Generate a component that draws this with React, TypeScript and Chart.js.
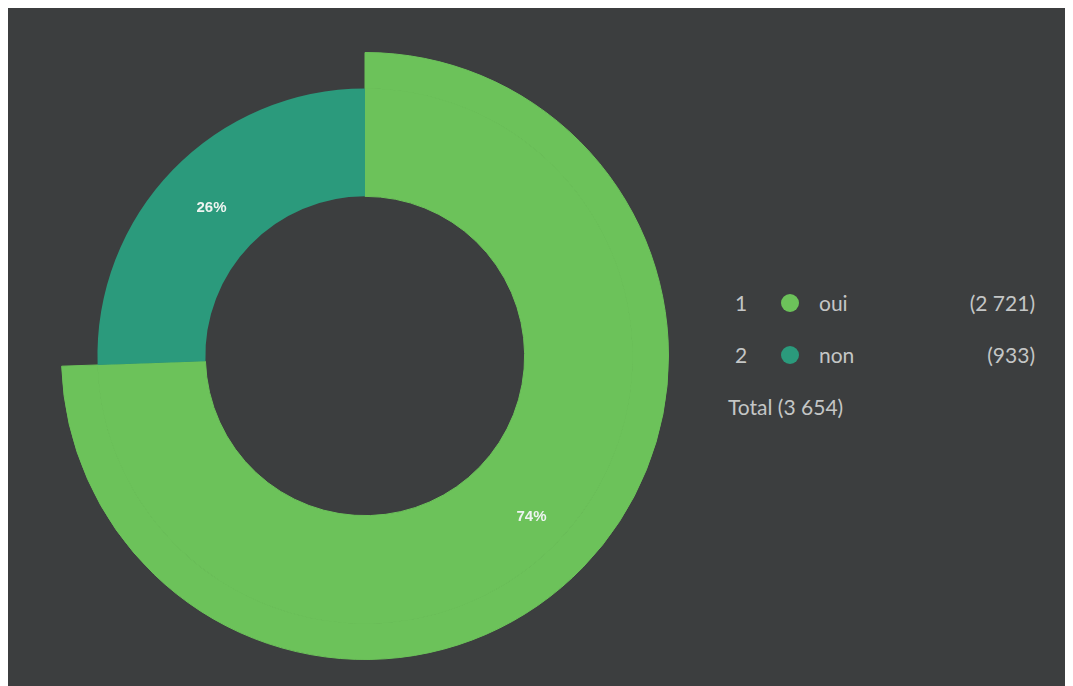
import React, { useEffect, useRef } from "react";
import { Chart, registerables } from "chart.js";

Chart.register(...registerables);

const categories = ["oui", "non"];
const values = [2721, 933];
const colors = ["#6cc25a", "#2b9a7c"];
// outer band only shows "oui" (exploded/larger radius slice)
const outerBandVisible = [true, false];

const fmt = (n: number) => String(n).replace(/\B(?=(\d{3})+(?!\d))/g, " ");

const labelPlugin = {
  id: "pctLabels",
  afterDatasetsDraw(chart: any) {
    const ctx = chart.ctx;
    const m0 = chart.getDatasetMeta(0);
    const m1 = chart.getDatasetMeta(1);
    const total = values.reduce((a, b) => a + b, 0);
    ctx.save();
    ctx.fillStyle = "#eef4f1";
    ctx.font = "bold 15px 'Liberation Sans', Arial, sans-serif";
    ctx.textAlign = "center";
    ctx.textBaseline = "middle";
    m1.data.forEach((arc: any, i: number) => {
      const p = arc.getProps(["x", "y", "startAngle", "endAngle", "innerRadius", "outerRadius"], true);
      const outer = outerBandVisible[i] ? m0.data[i].getProps(["outerRadius"], true).outerRadius : p.outerRadius;
      const r = (p.innerRadius + outer) / 2;
      const a = (p.startAngle + p.endAngle) / 2;
      const pct = Math.round((values[i] / total) * 100) + "%";
      ctx.fillText(pct, p.x + Math.cos(a) * r, p.y + Math.sin(a) * r);
    });
    ctx.restore();
  },
};

export default function App() {
  const ref = useRef<HTMLCanvasElement>(null);
  useEffect(() => {
    if (!ref.current) return;
    const transparent = "rgba(0,0,0,0)";
    const chart = new Chart(ref.current, {
      type: "doughnut",
      data: {
        labels: categories,
        datasets: [
          {
            data: values,
            backgroundColor: colors.map((c, i) => (outerBandVisible[i] ? c : transparent)),
            borderColor: colors.map((c, i) => (outerBandVisible[i] ? c : transparent)),
            borderWidth: 1,
            weight: 36,
          },
          {
            data: values,
            backgroundColor: colors,
            borderColor: colors.map((c, i) => (outerBandVisible[i] ? c : transparent)),
            borderWidth: 1,
            weight: 108,
          },
        ],
      },
      options: {
        animation: false,
        responsive: false,
        maintainAspectRatio: false,
        cutout: "52.6%",
        layout: { padding: 0 },
        plugins: { legend: { display: false }, tooltip: { enabled: false } },
      },
      plugins: [labelPlugin],
    });
    return () => chart.destroy();
  }, []);

  const total = values.reduce((a, b) => a + b, 0);
  const textStyle: React.CSSProperties = {
    position: "absolute",
    color: "#c4c6c6",
    fontFamily: "Lato, 'Open Sans', sans-serif",
    fontSize: 21,
    lineHeight: "24px",
    transform: "translateY(-50%)",
    whiteSpace: "nowrap",
  };
  const rowY = [295, 347];

  return (
    <div style={{ position: "relative", width: 1059, height: 678, background: "#3c3e3f", overflow: "hidden" }}>
      <canvas ref={ref} width={608} height={608} style={{ position: "absolute", left: 53, top: 44, width: 608, height: 608 }} />
      {categories.map((c, i) => (
        <React.Fragment key={c}>
          <span style={{ ...textStyle, left: 727, top: rowY[i] }}>{i + 1}</span>
          <span
            style={{
              position: "absolute",
              left: 773,
              top: rowY[i] - 9,
              width: 18,
              height: 18,
              borderRadius: 9,
              background: colors[i],
            }}
          />
          <span style={{ ...textStyle, left: 811, top: rowY[i] }}>{c}</span>
          <span style={{ ...textStyle, right: 1059 - 1027, top: rowY[i] }}>({fmt(values[i])})</span>
        </React.Fragment>
      ))}
      <span style={{ ...textStyle, left: 720, top: 399 }}>Total ({fmt(total)})</span>
    </div>
  );
}
